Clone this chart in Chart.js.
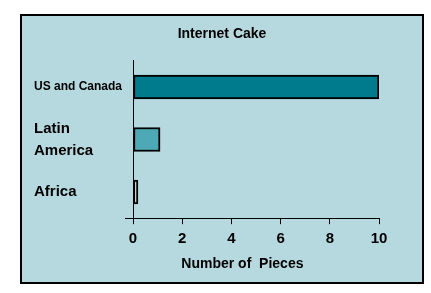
<!DOCTYPE html>
<html>
<head>
<meta charset="utf-8">
<script src="https://cdn.jsdelivr.net/npm/chart.js@4"></script>
<style>
  html, body { margin: 0; padding: 0; background: #ffffff; }
  #panel {
    position: absolute; left: 20px; top: 14px;
    width: 400px; height: 266px;
    border: 2px solid #000; background: #b5d9df;
  }
  #chart { display: block; }
</style>
</head>
<body>
<div id="panel"><canvas id="chart" width="400" height="266"></canvas></div>
<script>
// chart data
const categories = ['US and Canada', ['Latin', 'America'], 'Africa'];
const pieces = [10, 1.1, 0.2];
const barColors = ['#007b8d', '#4ea9b7', '#e4f1f3'];
const xTicks = [0, 2, 4, 6, 8, 10];

const fontFamily = "'Liberation Sans', Arial, sans-serif";

// center the title over the whole panel, not just the padded box
const centerTitle = {
    id: 'centerTitle',
    afterLayout(chart) {
        if (chart.titleBlock) {
            chart.titleBlock.left = 0;
            chart.titleBlock.right = chart.width;
        }
    }
};

new Chart(document.getElementById('chart'), {
    type: 'bar',
    data: {
        labels: categories,
        datasets: [{
            data: pieces,
            backgroundColor: barColors,
            borderColor: '#000',
            borderWidth: 2,
            borderSkipped: false,
            barThickness: 24
        }]
    },
    options: {
        indexAxis: 'y',
        responsive: false,
        animation: false,
        layout: { padding: { left: 12, right: 43, top: 8, bottom: 9 } },
        plugins: {
            legend: { display: false },
            tooltip: { enabled: false },
            title: {
                display: true,
                text: 'Internet Cake',
                color: '#000',
                font: { family: fontFamily, size: 14, weight: 'bold' },
                padding: { top: 2, bottom: 18 }
            }
        },
        scales: {
            x: {
                min: 0,
                max: 10,
                afterBuildTicks: (scale) => { scale.ticks = xTicks.map(v => ({ value: v })); },
                border: { display: true, color: '#000', width: 1 },
                grid: { drawOnChartArea: false, color: '#000', tickLength: 6 },
                ticks: {
                    color: '#000',
                    padding: 6,
                    font: { family: fontFamily, size: 15, weight: 'bold' }
                },
                title: {
                    display: true,
                    // trailing spaces nudge the centred title a bit left, like the original
                    text: 'Number of  Pieces       ',
                    color: '#000',
                    font: { family: fontFamily, size: 14, weight: 'bold' },
                    padding: { top: 2, bottom: 0 }
                }
            },
            y: {
                border: { display: true, color: '#000', width: 1 },
                grid: {
                    offset: true,
                    drawOnChartArea: false,
                    tickLength: 8,
                    // only the bottom edge tick, so the x axis pokes out left
                    color: (ctx) => ctx.type === 'scale' ? '#000' : 'rgba(0,0,0,0)'
                },
                afterFit: (scale) => { scale.width = 99; },
                ticks: {
                    color: '#000',
                    crossAlign: 'far',
                    padding: 6,
                    font: (ctx) => ({
                        family: fontFamily,
                        size: ctx.index === 0 ? 12 : 15,
                        weight: 'bold',
                        lineHeight: 1.45
                    })
                }
            }
        }
    },
    plugins: [centerTitle]
});
</script>
</body>
</html>
